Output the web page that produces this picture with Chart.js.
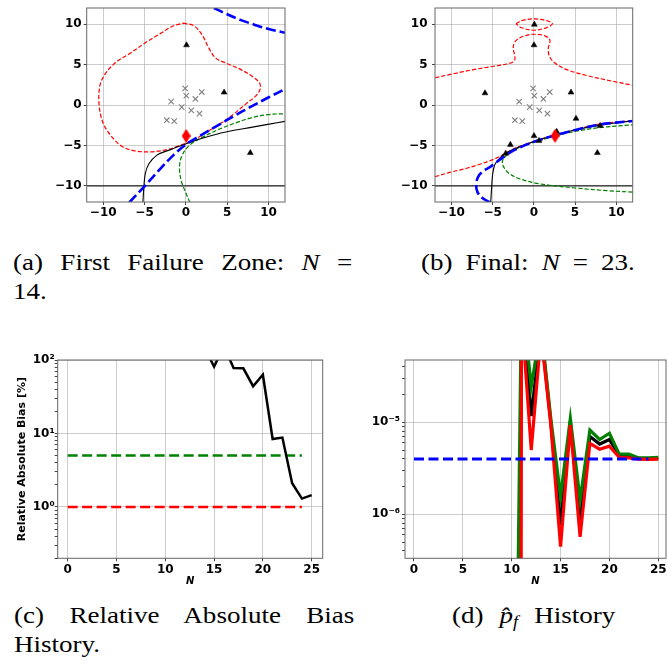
<!DOCTYPE html>
<html>
<head>
<meta charset="utf-8">
<script src="https://cdn.jsdelivr.net/npm/chart.js@4.4.0/dist/chart.umd.min.js"></script>
<style>
  body { margin: 0; background: #fff; }
  #fig { position: relative; width: 667px; height: 666px; overflow: hidden; background: #fff; }
  #fig canvas { position: absolute; }
  /* CM-like captions: Times glyphs widened a little */
  .cap { position: absolute; font-family: "Liberation Serif", serif; font-size: 23.5px; line-height: 23.5px; color: #000;
         white-space: nowrap; transform: scaleX(1.15); transform-origin: 0 0; }
  .just { white-space: normal; text-align: justify; text-align-last: justify; }
  .cap sub { font-size: 16px; line-height: 0; vertical-align: -4px; }
</style>
</head>
<body>
<div id="fig">
  <canvas id="chartA" width="300" height="232" style="left:0px;top:0px;width:300px;height:232px"></canvas>
  <canvas id="chartB" width="310" height="232" style="left:340px;top:0px;width:310px;height:232px"></canvas>
  <canvas id="chartC" width="330" height="260" style="left:0px;top:340px;width:330px;height:260px"></canvas>
  <canvas id="chartD" width="330" height="260" style="left:340px;top:340px;width:330px;height:260px"></canvas>

  <div class="cap just" style="left:13px;top:251px;width:295px">(a) First Failure Zone: <i>N</i> =</div>
  <div class="cap" style="left:13px;top:280px">14.</div>
  <div class="cap just" style="left:421px;top:251px;width:186px">(b) Final: <i>N</i> = 23.</div>
  <div class="cap just" style="left:14px;top:604px;width:296px">(c) Relative Absolute Bias</div>
  <div class="cap" style="left:14px;top:633px">History.</div>
  <div class="cap just" style="left:452px;top:604px;width:142px">(d) <i>p&#770;</i><sub><i>f</i></sub> History</div>
</div>

<script>
// ---- panel (a) and (b): samples and limit-state contours (x, y) ----
const initialSamples = [[-0.09, 2.06], [0.05, 1.15], [1.93, 1.6], [1.16, 0.75], [-1.78, 0.42],
    [-0.5, -0.26], [0.66, -0.67], [1.65, -1.07], [-2.3, -1.88], [-1.41, -2.0]];

const addedA = [[0.08, 7.41], [4.63, 1.56], [7.8, -5.92]];
const newestA = [[0.04, -3.82]];

const addedB = [[0.06, 9.96], [0.02, 7.41], [-5.93, 1.47], [4.51, 1.56], [5.12, -1.68], [8.04, -2.57],
    [2.77, -3.29], [0.02, -3.82], [0.63, -4.42], [-2.85, -4.91], [-3.42, -6.0], [7.71, -5.92]];
const newestB = [[2.57, -3.82]];

const hLine = [[-12, -10], [12, -10]];

const trueA = [[-5.2, -12.06], [-5.08, -10.16], [-4.92, -8.55], [-4.51, -7.33], [-3.5, -6.2], [-1.87, -5.52],
    [-0.04, -4.83], [1.79, -4.18], [3.82, -3.58], [5.85, -3.13], [7.89, -2.77], [9.92, -2.4], [12.15, -2.0]];
const meanLowA = [[-6.85, -12.06], [-4.95, -10.0], [-3.1, -7.9], [-1.5, -6.2], [0.04, -4.85], [1.8, -3.75],
    [3.82, -2.55], [5.85, -1.35], [7.89, -0.2], [9.92, 0.9], [12.15, 2.04]];
const meanHighA = [[3.4, 12.0], [5.0, 11.22], [6.67, 10.5], [8.29, 9.94], [9.92, 9.42], [12.15, 8.9]];
const upperA = [[0.49, -12.06], [-0.04, -10.77], [-0.57, -9.35], [-0.77, -7.74], [-0.57, -6.53], [-0.04, -5.52],
    [0.77, -4.71], [1.79, -4.1], [3.82, -3.09], [5.85, -2.28], [7.89, -1.59], [9.92, -1.19], [12.15, -1.07]];
const lowerA = [[-0.33, 10.12], [0.98, 9.8], [1.99, 8.63], [2.8, 7.01], [3.62, 5.8], [5.04, 5.11], [6.67, 4.38],
    [8.09, 3.49], [8.9, 2.77], [9.02, 2.04], [8.5, 1.15], [7.28, 0.14], [5.85, -1.07], [4.23, -2.28],
    [2.6, -3.29], [0.98, -4.3], [-0.65, -4.99], [-2.28, -5.52], [-4.31, -5.8], [-6.34, -5.64], [-7.76, -5.11],
    [-8.98, -3.9], [-10.0, -2.28], [-10.49, -0.06], [-10.41, 2.36], [-9.8, 3.78], [-8.58, 5.19], [-6.75, 6.4],
    [-4.72, 7.82], [-3.09, 8.83], [-1.67, 9.72], [-0.33, 10.12]];

const trueB = [[-5.24, -12.06], [-5.12, -10.16], [-5.0, -8.55], [-4.72, -7.33], [-4.11, -6.53], [-3.3, -5.92],
    [-1.68, -5.15], [0.02, -4.51], [2.37, -3.78], [4.8, -3.13], [8.04, -2.49], [12.0, -1.96]];
const meanB = [[-5.3, -12.05], [-6.2, -11.55], [-6.85, -10.75], [-7.0, -9.75], [-6.75, -8.85], [-6.15, -8.2],
    [-5.3, -7.65], [-4.5, -7.05], [-3.7, -6.45], [-2.5, -5.65], [0, -4.55], [2.4, -3.8], [4.8, -3.15],
    [8.0, -2.42], [12.0, -1.98]];
const upperB = [[12.0, -10.77], [8.85, -10.6], [4.8, -10.24], [0.75, -9.76], [-1.68, -9.15], [-2.9, -8.55],
    [-3.5, -7.94], [-3.83, -7.1], [-3.6, -6.5], [-2.5, -5.62], [0, -4.6], [2.4, -3.9], [4.8, -3.3],
    [8.0, -2.8], [12.0, -2.45]];
const lowerLowB = [[-12.0, -8.87], [-10.2, -8.34], [-8.15, -7.82], [-6.55, -7.33], [-4.9, -6.73], [-3.7, -6.12],
    [-2.5, -5.45], [0, -4.52], [2.4, -3.78], [4.8, -3.12], [8.0, -2.36], [12.0, -1.92]];
const lowerHighB = [[-12.0, 3.37], [-9.8, 3.86], [-7.35, 4.38], [-4.9, 4.79], [-3.3, 5.07], [-2.4, 5.4],
    [-2.3, 6.0], [-2.5, 7.0], [-2.3, 7.82], [-1.5, 8.42], [0, 8.75], [1.35, 8.55], [1.95, 8.02], [1.75, 7.0],
    [1.9, 6.0], [2.55, 5.2], [4.0, 4.38], [6.4, 3.65], [8.85, 3.09], [12.0, 2.44]];
const lowerLensB = [[-2.17, 10.04], [-1.48, 10.44], [0, 10.65], [1.56, 10.44], [2.25, 10.04], [1.56, 9.58],
    [0, 9.25], [-1.48, 9.55], [-2.17, 10.04]];

const spaceTicks = [-10, -5, 0, 5, 10];

// ---- panel (c): relative absolute bias history ----
const biasN = [10, 11, 12, 13, 14, 15, 16, 17, 18, 19, 20, 21, 22, 23, 24, 25];
const biasValues = [100, 4900, 192, 2400, 150, 81, 155, 78, 77, 44, 63, 8.4, 8.8, 2.1, 1.3, 1.45];
const targetN = [0, 24];
const targetLoose = 5;
const targetTight = 1;
const biasMajorTicks = [1, 10, 100];
const biasMajorLabels = ['10\u2070', '10\u00b9', '10\u00b2'];
const biasMinorTicks = [0.2, 0.3, 0.4, 0.5, 0.6, 0.7, 0.8, 0.9, 2, 3, 4, 5, 6, 7, 8, 9, 20, 30, 40, 50, 60, 70, 80, 90];

// ---- panel (d): p_f history ----
const pfN = [10, 11, 12, 13, 14, 15, 16, 17, 18, 19, 20, 21, 22, 23, 24, 25];
const pfMean = [6e-23, 2e-4, 1.17e-5, 1e-4, 1.0e-5, 7.66e-7, 1.02e-5, 9.1e-7, 7.0e-6, 5.8e-6, 6.5e-6,
    4.35e-6, 4.3e-6, 4.07e-6, 4.03e-6, 4.07e-6];
const pfUpper = [4e-13, 2.5e-4, 2.44e-5, 1.1e-4, 1.1e-5, 1.56e-6, 1.1e-5, 1.43e-6, 8.25e-6, 6.5e-6, 7.6e-6,
    4.5e-6, 4.5e-6, 4.1e-6, 4.1e-6, 4.17e-6];
const pfLower = [1e-100, 1.6e-4, 5.0e-6, 9e-5, 9.5e-6, 4.46e-7, 9.3e-6, 5.7e-7, 5.9e-6, 5.1e-6, 5.5e-6,
    4.17e-6, 4.1e-6, 3.97e-6, 3.95e-6, 3.97e-6];
const pfTrue = 4e-6;
const pfMajorTicks = [1e-6, 1e-5];
const pfMajorLabels = ['10\u207b\u2076', '10\u207b\u2075'];
const pfMinorTicks = [4e-7, 5e-7, 6e-7, 7e-7, 8e-7, 9e-7, 2e-6, 3e-6, 4e-6, 5e-6, 6e-6, 7e-6, 8e-6, 9e-6, 2e-5, 3e-5, 4e-5];

const historyTicks = [0, 5, 10, 15, 20, 25];

// ---- shared styling ----
const tickFont = { family: 'DejaVu Sans', size: 12, weight: 'bold' };
const gridColor = 'rgba(176, 176, 176, 0.8)';
const tickColor = '#444';

const frame = {
    id: 'frame',
    afterDatasetsDraw(chart) {
        const { ctx, chartArea: a } = chart;
        ctx.save();
        ctx.strokeStyle = '#666';
        ctx.lineWidth = 1;
        ctx.strokeRect(a.left, a.top, a.right - a.left, a.bottom - a.top);
        ctx.restore();
    }
};

function toPoints(pairs) {
    return pairs.map(p => ({ x: p[0], y: p[1] }));
}

function zipPoints(xs, ys) {
    return xs.map((x, i) => ({ x: x, y: Array.isArray(ys) ? ys[i] : ys }));
}

function curve(data, color, width, dash, tension) {
    return {
        data: data,
        showLine: true,
        borderColor: color,
        borderWidth: width,
        borderDash: dash || [],
        pointRadius: 0,
        tension: tension === undefined ? 0.35 : tension,
        fill: false
    };
}

function diamondMarker(w, h, color) {
    const c = document.createElement('canvas');
    c.width = w;
    c.height = h;
    const g = c.getContext('2d');
    g.fillStyle = color;
    g.beginPath();
    g.moveTo(w / 2, 0);
    g.lineTo(w, h / 2);
    g.lineTo(w / 2, h);
    g.lineTo(0, h / 2);
    g.closePath();
    g.fill();
    return c;
}

function minusLabel(v) {
    return v < 0 ? '\u2212' + Math.abs(v) : String(v);
}

// x axis with fixed height, y axis with fixed width, so the plot box lands where it should
function xAxis(min, max, ticks, height, pad, title) {
    return {
        type: 'linear', min: min, max: max,
        afterBuildTicks: s => { s.ticks = ticks.map(v => ({ value: v })); },
        afterFit: s => { s.height = height; s.paddingLeft = 0; s.paddingRight = 0; },
        border: { display: false },
        grid: { color: gridColor, lineWidth: 0.8, tickLength: 3, tickColor: tickColor, tickWidth: 1 },
        ticks: { font: tickFont, color: '#000', padding: pad, maxRotation: 0, autoSkip: false, callback: v => minusLabel(v) },
        title: title || { display: false }
    };
}

function yLinear(min, max, ticks, width, pad) {
    return {
        type: 'linear', min: min, max: max,
        afterBuildTicks: s => { s.ticks = ticks.map(v => ({ value: v })); },
        afterFit: s => { s.width = width; s.paddingTop = 0; s.paddingBottom = 0; },
        border: { display: false },
        grid: { color: gridColor, lineWidth: 0.8, tickLength: 3, tickColor: tickColor, tickWidth: 1 },
        ticks: { font: tickFont, color: '#000', padding: pad, autoSkip: false, callback: v => minusLabel(v) }
    };
}

function yLog(min, max, majors, labels, minors, width, pad, title) {
    const all = majors.concat(minors).sort((a, b) => a - b);
    return {
        type: 'logarithmic', min: min, max: max,
        afterBuildTicks: s => { s.ticks = all.map(v => ({ value: v })); },
        afterFit: s => { s.width = width; s.paddingTop = 0; s.paddingBottom = 0; },
        border: { display: false },
        grid: {
            color: c => (c.tick && majors.includes(c.tick.value)) ? gridColor : 'rgba(0,0,0,0)',
            lineWidth: 0.8, tickLength: 3, tickColor: tickColor, tickWidth: 1
        },
        ticks: {
            font: tickFont, color: '#000', padding: pad, autoSkip: false,
            callback: v => { const i = majors.indexOf(v); return i >= 0 ? labels[i] : ''; }
        },
        title: title || { display: false }
    };
}

function baseOptions(padding, scales) {
    return {
        responsive: false,
        animation: false,
        events: [],
        layout: { padding: padding },
        elements: { line: { capBezierPoints: false } },
        plugins: { legend: { display: false }, tooltip: { enabled: false } },
        scales: scales
    };
}

const diamond = diamondMarker(9, 14, '#ff0000');

function sampleSets(added, newest) {
    return [
        { data: toPoints(newest), pointStyle: diamond, pointRadius: 7 },
        { data: toPoints(added), pointStyle: 'triangle', pointRadius: 3.4, backgroundColor: '#000', borderColor: '#000', borderWidth: 0.5 },
        { data: toPoints(initialSamples), pointStyle: 'crossRot', pointRadius: 3.8, borderColor: '#808080', borderWidth: 1.1 }
    ];
}

// ---- (a) first failure zone ----
new Chart(document.getElementById('chartA'), {
    type: 'scatter',
    data: {
        datasets: sampleSets(addedA, newestA).concat([
            curve(toPoints(meanLowA), '#0000ff', 2.6, [10, 4]),
            curve(toPoints(meanHighA), '#0000ff', 2.6, [10, 4]),
            curve(toPoints(trueA), '#000', 1.1),
            curve(toPoints(upperA), '#008000', 1.2, [4.3, 2]),
            curve(toPoints(lowerA), '#ff0000', 1.2, [4.3, 2]),
            curve(toPoints(hLine), '#222', 1.1, [], 0)
        ])
    },
    options: baseOptions({ top: 4, right: 15, left: 0, bottom: 0 }, {
        x: xAxis(-12, 12, spaceTicks, 30, 1),
        y: yLinear(-12, 12, spaceTicks, 86.7, 2)
    }),
    plugins: [frame]
});

// ---- (b) final ----
new Chart(document.getElementById('chartB'), {
    type: 'scatter',
    data: {
        datasets: sampleSets(addedB, newestB).concat([
            curve(toPoints(meanB), '#0000ff', 2.6, [10, 4]),
            curve(toPoints(trueB), '#000', 1.1),
            curve(toPoints(upperB), '#008000', 1.2, [4.3, 2]),
            curve(toPoints(lowerLowB), '#ff0000', 1.2, [4.3, 2]),
            curve(toPoints(lowerHighB), '#ff0000', 1.2, [4.3, 2]),
            curve(toPoints(lowerLensB), '#ff0000', 1.2, [4.3, 2]),
            curve(toPoints(hLine), '#222', 1.1, [], 0)
        ])
    },
    options: baseOptions({ top: 4, right: 17.3, left: 0, bottom: 0 }, {
        x: xAxis(-12, 12, spaceTicks, 30, 1),
        y: yLinear(-12, 12, spaceTicks, 95, 4.5)
    }),
    plugins: [frame]
});

const nTitle = {
    display: true, text: 'N', color: '#000',
    font: { family: 'DejaVu Sans', size: 10, weight: 'bold', style: 'italic' },
    padding: { top: 0, bottom: 13 }
};

// ---- (c) relative absolute bias ----
const biasLine = curve(zipPoints(biasN, biasValues), '#000', 2.5, [], 0);
biasLine.clip = 0;
new Chart(document.getElementById('chartC'), {
    type: 'scatter',
    data: {
        datasets: [
            biasLine,
            curve(zipPoints(targetN, targetLoose), '#008000', 2.5, [10, 4.5], 0),
            curve(zipPoints(targetN, targetTight), '#ff0000', 2.5, [10, 4.5], 0)
        ]
    },
    options: baseOptions({ top: 20, right: 7.3, left: 0, bottom: 0 }, {
        x: xAxis(-1.02, 26.13, historyTicks, 41.7, 1.2, nTitle),
        y: yLog(0.2, 100, biasMajorTicks, biasMajorLabels, biasMinorTicks, 57.7, 0, {
            display: true, text: 'Relative Absolute Bias [%]', color: '#000',
            font: { family: 'DejaVu Sans', size: 11, weight: 'bold' },
            padding: { top: 16, bottom: 0 }
        })
    }),
    plugins: [frame]
});

// ---- (d) p_f history ----
const pfSets = [
    curve(zipPoints(targetN, pfTrue), '#0000ff', 3, [10, 4.5], 0),
    curve(zipPoints(pfN, pfLower), '#ff0000', 3.2, [], 0),
    curve(zipPoints(pfN, pfUpper), '#008000', 3.2, [], 0),
    curve(zipPoints(pfN, pfMean), '#000', 3.2, [], 0)
];
pfSets.forEach(d => { d.clip = 0; });
new Chart(document.getElementById('chartD'), {
    type: 'scatter',
    data: { datasets: pfSets },
    options: baseOptions({ top: 20, right: 4, left: 0, bottom: 0 }, {
        x: xAxis(-0.92, 25.79, historyTicks, 41.7, 1.2, nTitle),
        y: yLog(3.33e-7, 4.75e-5, pfMajorTicks, pfMajorLabels, pfMinorTicks, 65, 2)
    }),
    plugins: [frame]
});
</script>
</body>
</html>
